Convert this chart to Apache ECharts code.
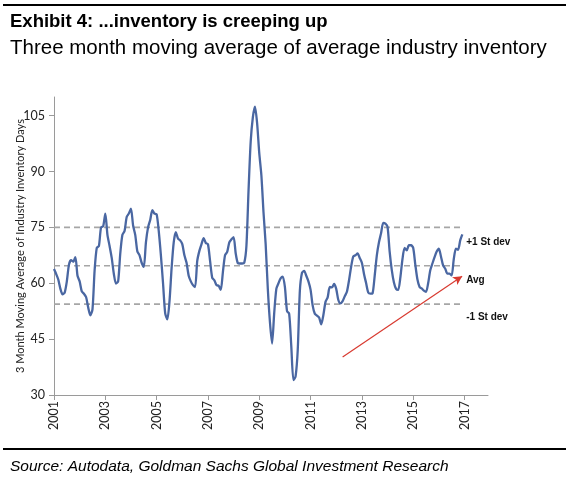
<!DOCTYPE html>
<html>
<head>
<meta charset="utf-8">
<script src="https://cdn.jsdelivr.net/npm/echarts@6/dist/echarts.min.js"></script>
<style>
html,body{margin:0;padding:0;background:#fff;}
#chart{width:571px;height:483px;}
</style>
</head>
<body>
<div id="chart"></div>
<script>
// Month index 0 = Jan 2001
var startYear = 2001;
var inventory = [
63.8,62.5,61.0,58.5,57.0,57.5,60.5,65.0,66.2,65.8,67.0,62.0,
60.5,57.8,57.2,56.3,53.5,51.4,53.0,63.5,69.5,70.0,75.0,75.3,
78.7,73.0,70.0,66.8,62.5,59.9,60.5,68.0,73.0,74.0,77.8,78.7,
80.0,75.5,73.0,68.5,67.5,65.5,64.4,71.0,75.0,77.0,79.6,78.7,
78.5,74.0,67.5,60.0,52.0,50.3,55.0,64.0,71.0,73.7,72.0,71.5,
70.5,67.5,65.5,62.0,60.5,59.5,59.0,66.0,68.7,70.5,72.1,70.8,
70.5,66.0,61.5,60.8,59.5,59.3,58.2,63.0,67.5,68.4,71.0,71.8,
72.4,68.0,65.4,65.3,65.3,65.5,70.0,85.0,98.0,104.5,107.4,103.0,
95.0,89.0,79.0,70.5,58.6,49.6,43.8,52.0,58.5,60.0,61.3,61.8,
59.0,52.5,51.8,43.0,34.0,35.0,42.0,58.0,62.8,63.3,62.0,60.5,
58.3,54.0,51.8,51.3,50.8,49.0,51.5,55.0,56.2,59.0,58.9,59.8,
58.5,55.5,54.6,55.2,56.5,57.7,60.8,64.5,67.2,67.5,68.0,66.8,
65.5,62.5,60.0,57.5,57.2,57.3,62.0,67.5,71.0,73.5,76.2,76.0,
75.2,68.5,63.5,60.2,58.5,58.2,61.5,66.5,69.5,68.8,70.2,70.2,
69.5,65.0,61.0,59.0,58.6,58.0,57.7,60.0,63.5,65.3,67.0,68.5,
69.3,67.2,64.8,63.9,62.6,62.6,62.1,66.5,69.3,69.0,71.5,73.1
];
var xTickMonths = [0,24,48,72,96,120,144,168,192];
var yTicks = [30,45,60,75,90,105];
var plusSd = 75.0, avg = 64.7, minusSd = 54.4;
var bandLabels = ['+1 St dev','Avg','-1 St dev'];
var bandEndMonth = 190;
var arrowStart = [135, 40.2];
var arrowEnd = [190.9, 61.9];

var lineData = inventory.map(function(v,i){return [i,v];});
function band(val){return [[0,val],[bandEndMonth,val]];}

var chart = echarts.init(document.getElementById('chart'), null, {renderer:'canvas'});
var dashStyle = {color:'#a6a6a6', width:1.6, type:[6,4]};
function bandSeries(val, text, dy){
  return {
    type:'line', data: band(val), symbol:'none', silent:true,
    lineStyle: dashStyle, z:1,
    endLabel:{show:true, formatter:text, fontFamily:'Liberation Sans', fontWeight:'bold',
      fontSize:10, color:'#111', distance:6, offset:[0,dy]}
  };
}
chart.setOption({
  animation:false,
  title:[
    {text:'Exhibit 4: ...inventory is creeping up', left:5, top:7,
     textStyle:{fontFamily:'Liberation Sans', fontWeight:'bold', fontSize:18.5, color:'#000'}},
    {text:'Three month moving average of average industry inventory', left:5, top:33,
     textStyle:{fontFamily:'Liberation Sans', fontWeight:'normal', fontSize:20.5, color:'#000'}},
    {text:'Source: Autodata, Goldman Sachs Global Investment Research', left:5, top:454,
     textStyle:{fontFamily:'Liberation Sans', fontStyle:'italic', fontWeight:'normal', fontSize:15.5, color:'#000'}}
  ],
  graphic:[
    {type:'rect', shape:{x:3,y:4,width:563,height:2}, style:{fill:'#000'}},
    {type:'rect', shape:{x:3,y:448,width:563,height:2}, style:{fill:'#000'}}
  ],
  grid:{left:54, right:83, top:97, bottom:88, containLabel:false, outerBoundsMode:'none'},
  xAxis:{
    type:'value', min:0, max:203,
    axisLine:{show:true, lineStyle:{color:'#9a9a9a', width:1}},
    axisTick:{show:true, customValues:xTickMonths, length:5, lineStyle:{color:'#9a9a9a'}},
    axisLabel:{customValues:xTickMonths, rotate:90, margin:6, fontFamily:'Lato', fontSize:12.5, color:'#222',
      formatter:function(v){return String(startYear + Math.round(v/12));}},
    splitLine:{show:false}
  },
  yAxis:{
    type:'value', min:30, max:110,
    name:'3 Month Moving Average of Industry Inventory Days',
    nameLocation:'middle', nameGap:28, nameRotate:90, nameMoveOverlap:false,
    nameTextStyle:{fontFamily:'Lato', fontSize:11, color:'#222'},
    axisLine:{show:true, lineStyle:{color:'#9a9a9a', width:1}},
    axisTick:{show:true, customValues:yTicks, length:5, lineStyle:{color:'#9a9a9a'}},
    axisLabel:{customValues:yTicks, margin:9, fontFamily:'Lato', fontSize:12.5, color:'#222'},
    splitLine:{show:false}
  },
  series:[
    bandSeries(plusSd, bandLabels[0], 15),
    bandSeries(avg, bandLabels[1], 15),
    bandSeries(minusSd, bandLabels[2], 13),
    {
      type:'line', data:lineData, symbol:'none', smooth:0.25, z:3,
      lineStyle:{color:'#4a67a2', width:2.3},
      markLine:{
        silent:true, symbol:['none','arrow'], symbolSize:[7,9],
        lineStyle:{color:'#d83a30', width:1.2, type:'solid'},
        label:{show:false},
        data:[[{coord:arrowStart},{coord:arrowEnd}]]
      }
    }
  ]
});
</script>
</body>
</html>
